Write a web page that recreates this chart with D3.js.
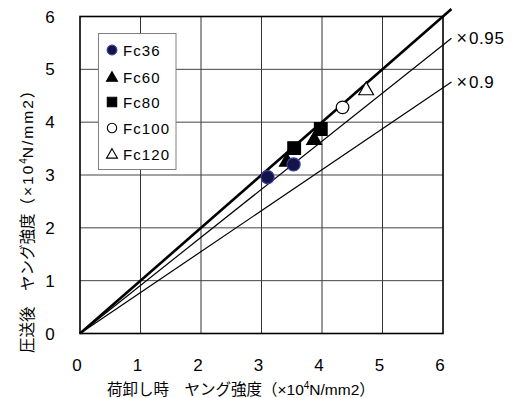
<!DOCTYPE html>
<html>
<head>
<meta charset="utf-8">
<script src="https://cdn.jsdelivr.net/npm/d3@7/dist/d3.min.js"></script>
<style>
  body { margin: 0; background: #fff; }
  svg { display: block; font-family: "Liberation Sans", Arial, "Noto Sans CJK JP", sans-serif; }
</style>
</head>
<body>
<svg id="chart" width="523" height="398"></svg>
<script>
// chart values
var seriesNames = ["Fc36", "Fc60", "Fc80", "Fc100", "Fc120"];
var fc36X = [3.10, 3.53], fc36Y = [2.96, 3.20];
var fc60X = [3.42, 3.87], fc60Y = [3.25, 3.66];
var fc80X = [3.54, 3.98], fc80Y = [3.51, 3.87];
var fc100X = [4.34], fc100Y = [4.28];
var fc120X = [4.73], fc120Y = [4.60];
var refRatios = [1, 0.91, 0.775];
var refLabels = ["", "0.95", "0.9"];
var refEnd = 6.14;
var ticks = [0, 1, 2, 3, 4, 5, 6];

var svg = d3.select("#chart");
var x = d3.scaleLinear().domain([0, 6]).range([80, 443]);
var y = d3.scaleLinear().domain([0, 6]).range([333.5, 16.5]);

// grid
svg.append("g").selectAll("line").data(ticks.slice(1, 6)).join("line")
    .attr("x1", d => x(d)).attr("x2", d => x(d))
    .attr("y1", y(0)).attr("y2", y(6))
    .attr("stroke", "#333").attr("stroke-width", 1);
svg.append("g").selectAll("line").data(ticks.slice(1, 6)).join("line")
    .attr("x1", x(0)).attr("x2", x(6))
    .attr("y1", d => y(d)).attr("y2", d => y(d))
    .attr("stroke", "#444").attr("stroke-width", 1);

// frame
svg.append("rect")
    .attr("x", x(0)).attr("y", y(6))
    .attr("width", x(6) - x(0)).attr("height", y(0) - y(6))
    .attr("fill", "none").attr("stroke", "#000").attr("stroke-width", 1.6);

// tick labels
svg.append("g").selectAll("text").data(ticks).join("text")
    .attr("x", d => x(d) - 3).attr("y", 371)
    .attr("text-anchor", "middle").attr("font-size", 17)
    .text(d => d);
svg.append("g").selectAll("text").data(ticks).join("text")
    .attr("x", 50).attr("y", d => y(d) + 6)
    .attr("text-anchor", "middle").attr("font-size", 17)
    .text(d => d);

// reference lines y = k x
var refG = svg.append("g");
refRatios.forEach(function(k, i) {
    refG.append("line")
        .attr("x1", x(0)).attr("y1", y(0))
        .attr("x2", x(refEnd)).attr("y2", y(refEnd * k))
        .attr("stroke", "#000").attr("stroke-width", i == 0 ? 2.6 : 1.2);
    if (refLabels[i]) {
        var t = refG.append("text")
            .attr("x", x(refEnd) + 5).attr("y", y(refEnd * k) + 6)
            .attr("font-size", 17);
        t.append("tspan").attr("font-size", 18).text("×");
        t.append("tspan").attr("dx", 2).attr("letter-spacing", 0.6).text(refLabels[i]);
    }
});

// markers
var sym = {
    Fc36: { type: d3.symbolCircle, size: 135, fill: "#14144a", stroke: "#3a3a9a" },
    Fc60: { type: d3.symbolTriangle, size: 95, fill: "#000", stroke: "#000" },
    Fc80: { type: d3.symbolSquare, size: 160, fill: "#000", stroke: "#000" },
    Fc100: { type: d3.symbolCircle, size: 125, fill: "#fff", stroke: "#000" },
    Fc120: { type: d3.symbolTriangle, size: 95, fill: "#fff", stroke: "#000" }
};
var pts = {
    Fc36: [fc36X, fc36Y], Fc60: [fc60X, fc60Y], Fc80: [fc80X, fc80Y],
    Fc100: [fc100X, fc100Y], Fc120: [fc120X, fc120Y]
};
// Fc36 ends up on top, like in the original
seriesNames.slice().reverse().forEach(function(name) {
    var s = sym[name];
    var data = pts[name][0].map((v, i) => [v, pts[name][1][i]]);
    svg.append("g").selectAll("path").data(data).join("path")
        .attr("transform", d => "translate(" + x(d[0]) + "," + y(d[1]) + ")")
        .attr("d", d3.symbol().type(s.type).size(s.size))
        .attr("fill", s.fill).attr("stroke", s.stroke).attr("stroke-width", 1.2);
});

// legend
var lg = svg.append("g");
lg.append("rect").attr("x", 98.5).attr("y", 33.5).attr("width", 77.5).attr("height", 136)
    .attr("fill", "#fff").attr("stroke", "#808080").attr("stroke-width", 1);
var rowY = [50, 77, 102, 128, 154];
seriesNames.forEach(function(name, i) {
    var s = sym[name];
    lg.append("path")
        .attr("transform", "translate(112," + (rowY[i] + (s.type == d3.symbolTriangle ? 1 : 0)) + ")")
        .attr("d", d3.symbol().type(s.type).size(s.size * 0.55))
        .attr("fill", s.fill).attr("stroke", s.stroke).attr("stroke-width", 1.1);
    lg.append("text").attr("x", 123).attr("y", rowY[i] + 6)
        .attr("font-size", 15).attr("letter-spacing", 1.1)
        .text(name);
});

// axis titles
var xt = svg.append("text").attr("x", 107).attr("y", 395).attr("font-size", 15.5);
xt.append("tspan").text("荷卸し時　ヤング強度（×10");
xt.append("tspan").attr("font-size", 10).attr("dy", -6).text("4");
xt.append("tspan").attr("dy", 6).text("N/mm2）");

var yt = svg.append("text")
    .attr("transform", "translate(33,353) rotate(-90)")
    .attr("font-size", 15.5);
yt.append("tspan").text("圧送後　ヤング強度");
yt.append("tspan").attr("letter-spacing", 2).text("（×10");
yt.append("tspan").attr("font-size", 10).attr("dy", -6).text("4");
yt.append("tspan").attr("dy", 6).attr("letter-spacing", 2).text("N/mm2）");
</script>
</body>
</html>
